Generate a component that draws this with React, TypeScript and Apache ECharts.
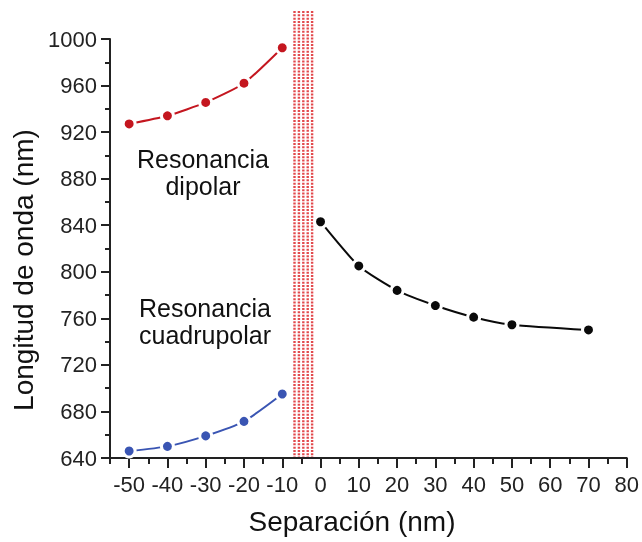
import React, { useEffect, useRef } from "react";
import * as echarts from "echarts";

const redX = [-50, -40, -30, -20, -10];
const redY = [927, 934, 945.5, 962, 992.5];
const blueX = [-50, -40, -30, -20, -10];
const blueY = [646, 650, 659, 671.5, 695];
const blackX = [0, 10, 20, 30, 40, 50, 70];
const blackY = [843, 805, 784, 771, 761, 754.5, 750];

const xMajorTicks = [-50, -40, -30, -20, -10, 0, 10, 20, 30, 40, 50, 60, 70, 80];
const xMinorTicks = [-55, -45, -35, -25, -15, -5, 5, 15, 25, 35, 45, 55, 65, 75];

const bandColumns = [-6.8, -5.65, -4.5, -3.35, -2.2];
const bandTop = 1024;
const bandBottom = 640;

const FONT = "'Liberation Sans', Arial, Helvetica, sans-serif";

export default function App() {
  const ref = useRef<HTMLDivElement>(null);
  useEffect(() => {
    if (!ref.current) return;
    const chart = echarts.init(ref.current, null, { renderer: "svg" });
    const pts = (xs: number[], ys: number[]) => xs.map((x, i) => [x, ys[i]]);
    const lineSeries = (name: string, xs: number[], ys: number[], color: string) => ({
      name,
      type: "line",
      data: pts(xs, ys),
      smooth: 0.2,
      symbol: "circle",
      symbolSize: 12,
      itemStyle: { color, borderColor: "#ffffff", borderWidth: 3 },
      lineStyle: { color, width: 2 },
      xAxisIndex: 0,
      yAxisIndex: 0,
      z: 3,
    });
    chart.setOption({
      animation: false,
      grid: { left: 110, right: 14, top: 39, bottom: 84 },
      xAxis: [
        {
          type: "value",
          min: -55,
          max: 80,
          axisLine: { show: true, onZero: false, lineStyle: { color: "#222", width: 2 } },
          axisTick: { show: true, customValues: xMajorTicks, length: 10, lineStyle: { color: "#222", width: 2 } },
          axisLabel: {
            customValues: xMajorTicks,
            margin: 15,
            fontSize: 22,
            fontFamily: FONT,
            color: "#222",
            formatter: (v: number) => String(v),
          },
          splitLine: { show: false },
        },
        {
          type: "value",
          min: -55,
          max: 80,
          position: "bottom",
          axisLine: { show: false, onZero: false },
          axisTick: { show: true, customValues: xMinorTicks, length: 6, lineStyle: { color: "#222", width: 2 } },
          axisLabel: { show: false },
          splitLine: { show: false },
        },
      ],
      yAxis: {
        type: "value",
        min: 640,
        max: 1000,
        interval: 40,
        axisLine: { show: true, onZero: false, lineStyle: { color: "#222", width: 2 } },
        axisTick: { show: true, length: 9, lineStyle: { color: "#222", width: 2 } },
        minorTick: { show: true, splitNumber: 2, length: 5, lineStyle: { color: "#222", width: 2 } },
        axisLabel: {
          margin: 13,
          fontSize: 22,
          fontFamily: FONT,
          color: "#222",
          formatter: (v: number) => String(v),
        },
        splitLine: { show: false },
      },
      graphic: [
        {
          type: "text",
          x: 23,
          y: 270,
          rotation: Math.PI / 2,
          style: {
            text: "Longitud de onda (nm)",
            font: `28px ${FONT}`,
            fill: "#111",
            align: "center",
            verticalAlign: "middle",
          },
        },
        {
          type: "text",
          x: 352,
          y: 521,
          style: {
            text: "Separación (nm)",
            font: `28px ${FONT}`,
            fill: "#111",
            align: "center",
            verticalAlign: "middle",
          },
        },
        {
          type: "text",
          x: 203,
          y: 172,
          style: {
            text: "Resonancia\ndipolar",
            font: `25px ${FONT}`,
            lineHeight: 27,
            fill: "#111",
            align: "center",
            verticalAlign: "middle",
          },
        },
        {
          type: "text",
          x: 205,
          y: 321,
          style: {
            text: "Resonancia\ncuadrupolar",
            font: `25px ${FONT}`,
            lineHeight: 27,
            fill: "#111",
            align: "center",
            verticalAlign: "middle",
          },
        },
      ],
      series: [
        {
          type: "custom",
          clip: false,
          xAxisIndex: 0,
          yAxisIndex: 0,
          data: bandColumns.map((x) => [x, bandBottom]),
          renderItem: (params: any, api: any) => {
            const x = api.value(0);
            const p1000 = api.coord([x, 1000]);
            const pBot = api.coord([x, bandBottom]);
            const pxPerUnit = (pBot[1] - p1000[1]) / (1000 - bandBottom);
            const topY = p1000[1] - (bandTop - 1000) * pxPerUnit;
            return {
              type: "line",
              shape: { x1: pBot[0], y1: topY, x2: pBot[0], y2: pBot[1] - 1 },
              style: { stroke: "#e2494c", lineWidth: 2.4, lineDash: [2, 1.3], fill: null },
            };
          },
          z: 1,
        },
        lineSeries("dipolar", redX, redY, "#c4161f"),
        lineSeries("cuadrupolar", blueX, blueY, "#3a55b3"),
        lineSeries("black", blackX, blackY, "#0a0a0a"),
      ],
    });
    return () => chart.dispose();
  }, []);
  return <div ref={ref} style={{ position: "fixed", left: 0, top: 0, width: 642, height: 542 }} />;
}
